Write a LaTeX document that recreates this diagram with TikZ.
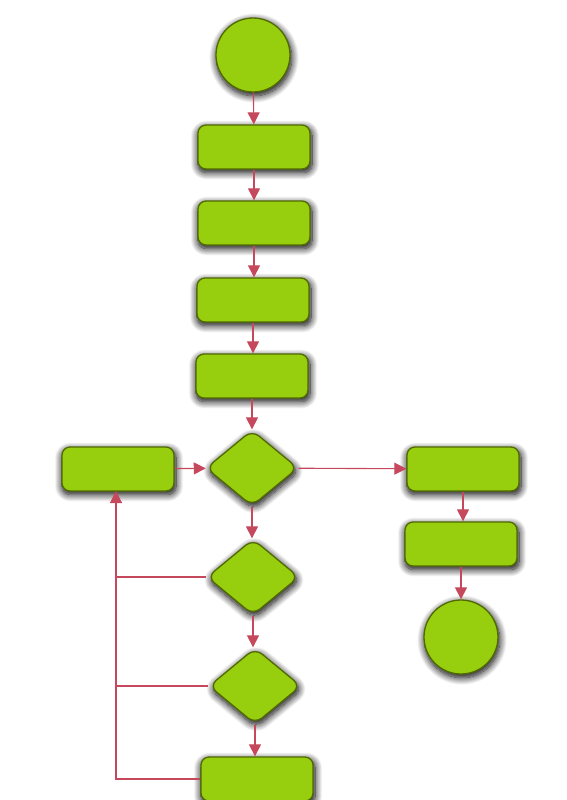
\documentclass[tikz,border=0pt]{standalone}
\usetikzlibrary{shapes.geometric,arrows.meta,shadows.blur}
\definecolor{leaf}{RGB}{151,206,14}
\definecolor{leafedge}{RGB}{80,105,0}
\definecolor{flow}{RGB}{198,72,92}
\tikzset{
  shade/.style={blur shadow={shadow xshift=1pt,shadow yshift=-3pt,shadow scale=1.02,shadow blur radius=7pt,shadow blur steps=12,shadow opacity=100}},
  blob/.style={circle,draw=leafedge,fill=leaf,line width=1.3pt,minimum size=74pt,inner sep=0pt,shade},
  stepbox/.style={rectangle,rounded corners=8pt,draw=leafedge,fill=leaf,line width=1.3pt,minimum width=112pt,minimum height=44pt,inner sep=0pt,shade},
  choice/.style={diamond,rounded corners=9pt,draw=leafedge,fill=leaf,line width=1.3pt,minimum width=92pt,minimum height=76pt,inner sep=0pt,shade},
  link/.style={draw=flow,line width=1.1pt,-{Triangle[length=12pt,width=12pt]}},
  plain/.style={draw=flow,line width=1.1pt}
}
\begin{document}
\begin{tikzpicture}[x=1pt,y=-1pt]
        \useasboundingbox (0,0) rectangle (566,800);
        \node[blob] (start) at (253,55) {};
        \node[stepbox] (s1) at (254,147) {};
        \node[stepbox] (s2) at (254,223) {};
        \node[stepbox] (s3) at (253,300) {};
        \node[stepbox] (s4) at (252,376) {};
        \node[choice] (q1) at (252,468) {};
        \node[stepbox] (back) at (118,469) {};
        \node[stepbox] (r1) at (463,469) {};
        \node[stepbox] (r2) at (461,544) {};
        \node[blob] (stop) at (461,637) {};
        \node[choice] (q2) at (253,577) {};
        \node[choice] (q3) at (255,686) {};
        \node[stepbox] (last) at (257,779) {};
        \coordinate (loop) at (116,491);
        \draw [link] (start) -- (s1);
        \foreach \a/\b in {s1/s2,s2/s3,s3/s4,s4/q1,q1/q2,q2/q3,q3/last,r1/r2,r2/stop}{
        \draw [link] (\a.south) -- (\a.south |- \b.north) ;
        }
        \draw [link] (back) -- (q1);
        \draw [link] (q1) -- (r1);
        \draw [link] (last.west) -| (loop);
        \draw [plain] (q2.west) -- (q2.west -| loop);
        \draw [plain] (q3.west) -- (q3.west -| loop);
    \end{tikzpicture}
\end{document}
